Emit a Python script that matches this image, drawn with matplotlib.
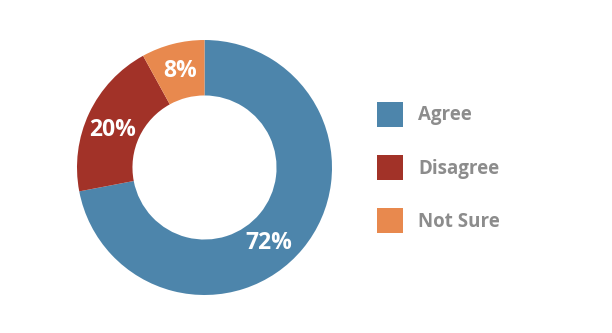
import numpy as np
import matplotlib
matplotlib.use("Agg")
import matplotlib.pyplot as plt

labels = ["Agree", "Disagree", "Not Sure"]
values = [72, 20, 8]
colors = ["#4d85ab", "#a23228", "#e8894e"]
# angle tweak (deg) for the percentage labels, 72% sits lower than mid-angle
label_shift = [-10, 3, 0]

fig = plt.figure(figsize=(6.12, 3.33), dpi=100)
ax = fig.add_axes([0, 0, 1, 1])
ax.axis("off")

cx, cy, r_out = 204.5, 165.5, 127.5
ring = 0.435

wedges, _ = ax.pie(values, colors=colors, startangle=90, counterclock=False,
                   center=(cx, cy), radius=r_out,
                   wedgeprops=dict(width=r_out * ring, linewidth=0))
ax.set_xlim(0, 612)
ax.set_ylim(0, 333)
ax.set_aspect("equal")

# percentage labels near mid angle of each wedge
r_lab = r_out * 0.78
for w, v, s in zip(wedges, values, label_shift):
    ang = np.deg2rad((w.theta1 + w.theta2) / 2 + s)
    ax.text(cx + r_lab * np.cos(ang), cy + r_lab * np.sin(ang), f"{v}%",
            ha="center", va="center", color="white", fontsize=16.5,
            fontweight="bold", family="Open Sans")

leg = fig.legend(wedges, labels, loc="center left", bbox_to_anchor=(0.616, 0.497),
                 frameon=False, borderpad=0, borderaxespad=0,
                 handlelength=1.39, handleheight=1.72, handletextpad=0.8,
                 labelspacing=1.47,
                 prop=dict(family="Open Sans", weight="bold", size=13.5))
for t in leg.get_texts():
    t.set_color("#8c8c8c")

fig.savefig("out.png", dpi=100)
